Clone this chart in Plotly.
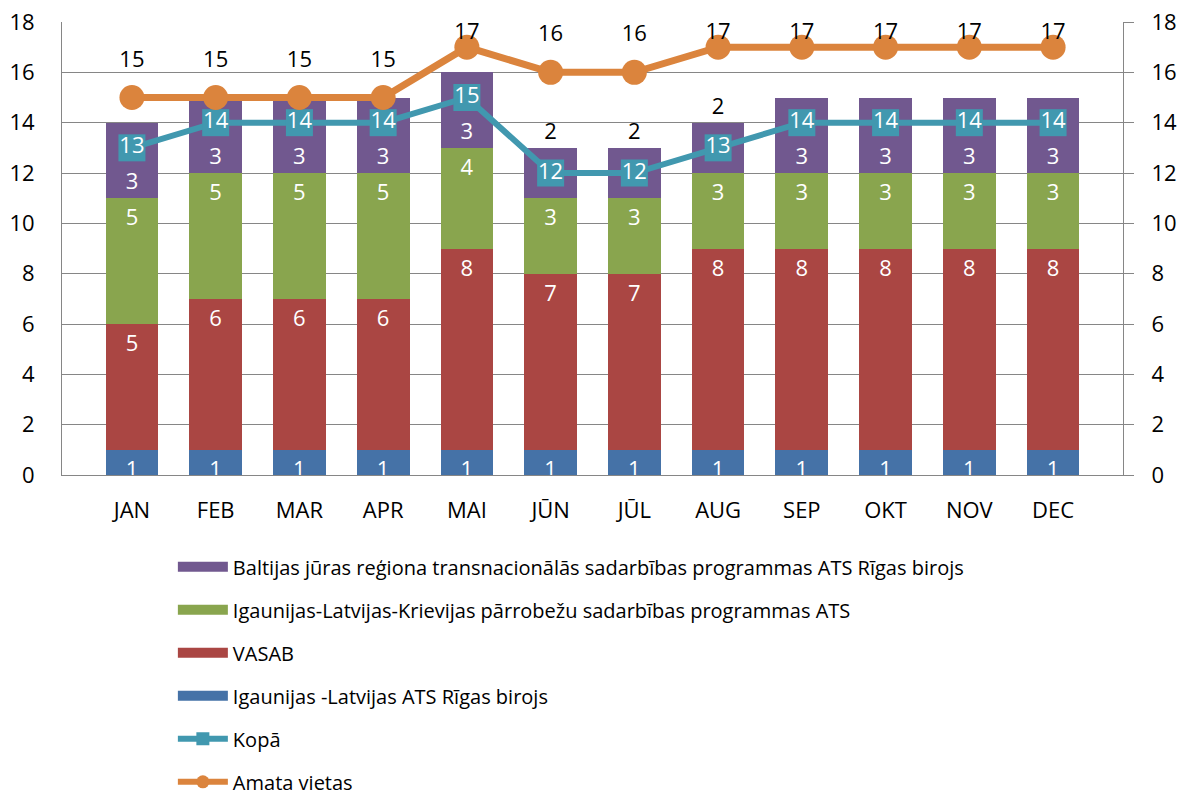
import plotly.graph_objects as go

months = ["JAN", "FEB", "MAR", "APR", "MAI", "JŪN", "JŪL", "AUG", "SEP", "OKT", "NOV", "DEC"]
ats_riga = [1, 1, 1, 1, 1, 1, 1, 1, 1, 1, 1, 1]
vasab = [5, 6, 6, 6, 8, 7, 7, 8, 8, 8, 8, 8]
ilk = [5, 5, 5, 5, 4, 3, 3, 3, 3, 3, 3, 3]
baltic = [3, 3, 3, 3, 3, 2, 2, 2, 3, 3, 3, 3]
kopa = [13, 14, 14, 14, 15, 12, 12, 13, 14, 14, 14, 14]
amata = [15, 15, 15, 15, 17, 16, 16, 17, 17, 17, 17, 17]
y_ticks = [0, 2, 4, 6, 8, 10, 12, 14, 16, 18]

names = {
    "baltic": "Baltijas jūras reģiona transnacionālās sadarbības programmas ATS Rīgas birojs",
    "ilk": "Igaunijas-Latvijas-Krievijas pārrobežu sadarbības programmas ATS",
    "vasab": "VASAB",
    "ats": "Igaunijas -Latvijas ATS Rīgas birojs",
    "kopa": "Kopā",
    "amata": "Amata vietas",
}
colors = {"ats": "#4572A7", "vasab": "#AA4643", "ilk": "#89A54E", "baltic": "#71588F",
          "kopa": "#4198AF", "amata": "#DB843D"}

FONT = "'Open Sans', sans-serif"
LBL = 22
fig = go.Figure()


def bar(vals, key, **kw):
    fig.add_trace(go.Bar(
        x=months, y=vals, name=names[key], marker=dict(color=colors[key], line=dict(width=0)),
        text=[str(v) for v in vals], textposition=kw.pop("textposition", "inside"),
        insidetextfont=dict(color="white", size=LBL, family=FONT),
        outsidetextfont=dict(color="black", size=LBL, family=FONT),
        textangle=0, constraintext="none", showlegend=False, cliponaxis=False, **kw))


bar(ats_riga, "ats")
bar(vasab, "vasab")
bar(ilk, "ilk")
outside_months = {"JŪN", "JŪL", "AUG"}
bar(baltic, "baltic",
    textposition=["outside" if m in outside_months else "inside" for m in months],
    insidetextanchor="start")

fig.add_trace(go.Scatter(
    x=months, y=kopa, name=names["kopa"], mode="lines+markers+text",
    line=dict(color=colors["kopa"], width=6),
    marker=dict(symbol="square", size=27, color=colors["kopa"]),
    text=[str(v) for v in kopa], textposition="middle center",
    textfont=dict(color="white", size=LBL, family=FONT),
    showlegend=False, cliponaxis=False))

fig.add_trace(go.Scatter(
    x=months, y=amata, name=names["amata"], mode="lines+markers",
    line=dict(color=colors["amata"], width=7),
    marker=dict(symbol="circle", size=25, color=colors["amata"]),
    showlegend=False, cliponaxis=False, yaxis="y2"))

# data labels of "Amata vietas": placed above the points, kept inside the plot area
amata_label_y = [min(v + 1.45, 17.55) for v in amata]
fig.add_trace(go.Scatter(
    x=months, y=amata_label_y, mode="text", text=[str(v) for v in amata],
    textposition="middle center", textfont=dict(color="black", size=LBL, family=FONT),
    showlegend=False, hoverinfo="skip", cliponaxis=False, yaxis="y2"))

# legend entries
for key in ["baltic", "ilk", "vasab", "ats"]:
    fig.add_trace(go.Scatter(x=[None], y=[None], mode="lines", name=names[key],
                             line=dict(color=colors[key], width=13), legendgroup=key))
fig.add_trace(go.Scatter(x=[None], y=[None], mode="lines+markers", name=names["kopa"],
                         line=dict(color=colors["kopa"], width=6),
                         marker=dict(symbol="square", size=13, color=colors["kopa"]),
                         legendgroup="kopa"))
fig.add_trace(go.Scatter(x=[None], y=[None], mode="lines+markers", name=names["amata"],
                         line=dict(color=colors["amata"], width=6),
                         marker=dict(symbol="circle", size=13, color=colors["amata"]),
                         legendgroup="amata"))

axis_common = dict(range=[0, 18], tickvals=y_ticks, showline=True, linecolor="#868686",
                   linewidth=1, tickfont=dict(size=LBL, family=FONT, color="black"),
                   zeroline=False)

fig.update_layout(
    width=1177, height=794,
    margin=dict(l=62, r=54, t=22, b=319, autoexpand=False),
    plot_bgcolor="white", paper_bgcolor="white",
    barmode="stack", bargap=0.37,
    font=dict(family=FONT, color="black"),
    xaxis=dict(showline=True, linecolor="#868686", ticks="", ticklabelstandoff=16,
               tickfont=dict(size=LBL, family=FONT, color="black")),
    yaxis=dict(**axis_common, ticks="", ticklabelstandoff=22, showgrid=True,
               gridcolor="#868686", gridwidth=1),
    yaxis2=dict(**axis_common, overlaying="y", side="right", showgrid=False,
                ticks="outside", ticklen=10, tickcolor="#868686", ticklabelstandoff=13),
    legend=dict(x=0.1045, y=-0.1596, xanchor="left", yanchor="top", orientation="v",
                font=dict(size=20, family=FONT, color="black"), tracegroupgap=14,
                itemwidth=50, bgcolor="rgba(0,0,0,0)"),
    showlegend=True,
)

fig.write_html("out.html", config={"displayModeBar": False},
               post_script="document.body.style.margin='0';document.body.style.overflow='hidden';")
